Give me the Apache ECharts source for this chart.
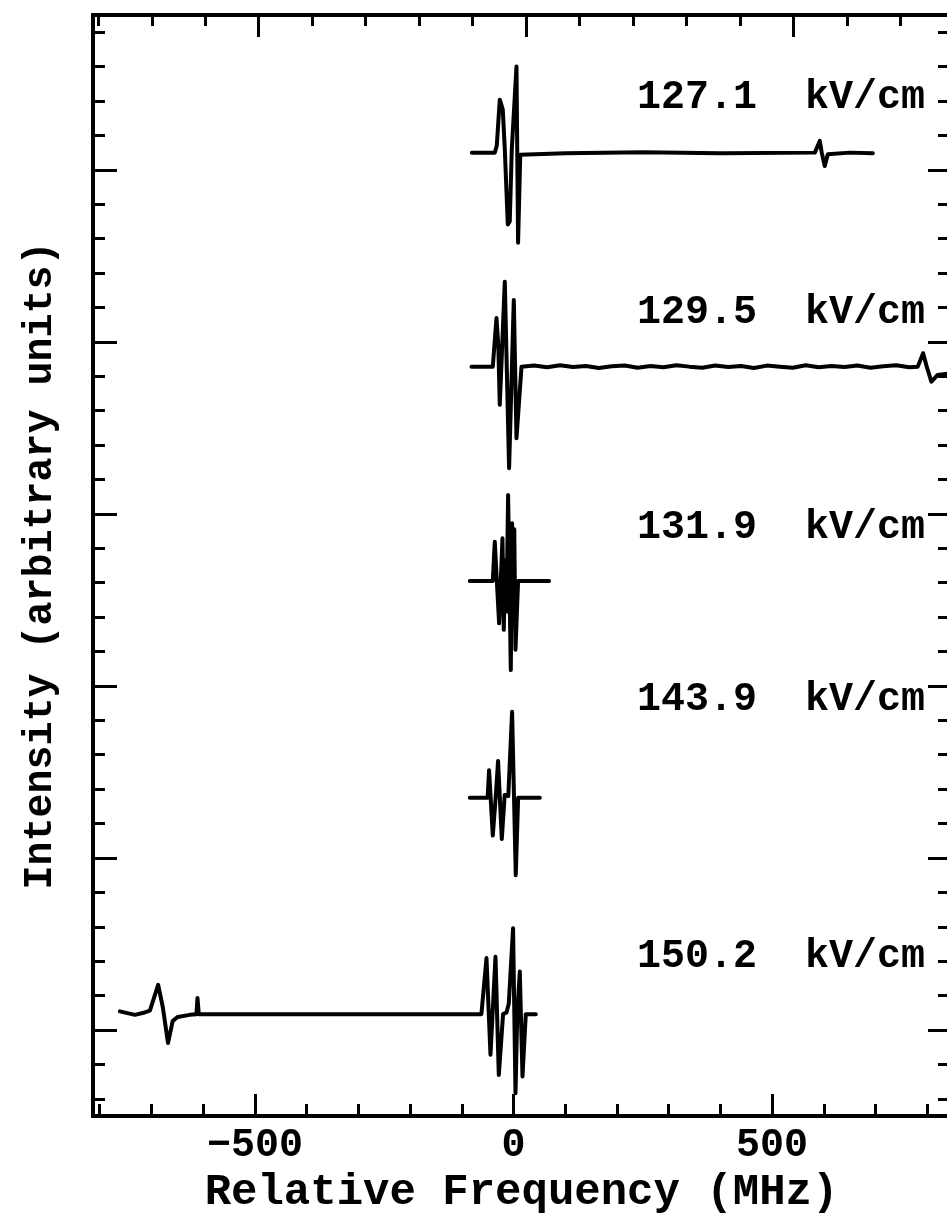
<!DOCTYPE html>
<html>
<head>
<meta charset="utf-8">
<script src="https://cdn.jsdelivr.net/npm/echarts/dist/echarts.min.js"></script>
<style>
html,body{margin:0;padding:0;background:#fff;}
#chart{width:947px;height:1223px;}
</style>
</head>
<body>
<div id="chart"></div>
<script>
// ---- Data (frequency in MHz, intensity in arbitrary units relative to each trace's baseline) ----
const fieldLabels = ['127.1  kV/cm', '129.5  kV/cm', '131.9  kV/cm', '143.9  kV/cm', '150.2  kV/cm'];
const baselines = [28.0, 21.78, 15.55, 9.25, 2.96];

const t1x = [-80.6, -36.2, -32.3, -26.5, -20.7, -16.8, -11.0, -7.2, -3.3, 5.8, 8.9, 13.1, 100, 250, 400, 582.6, 592.2, 596, 601.9, 607.7, 650, 694.8];
const t1y = [0, 0, 0.2, 1.54, 1.25, 0.1, -2.09, -2.0, 0.09, 2.5, -2.62, -0.06, -0.02, 0.01, -0.02, 0, 0.34, 0, -0.39, -0.05, 0, -0.02];

const t2x = [-81.2, -40, -32.9, -29.4, -26.5, -16.8, -8.5, 0.6, 5.8, 15.5,
  40, 65, 90, 115, 140, 165, 190, 215, 240, 265, 290, 315, 340, 365, 390, 415, 440, 465, 490, 515,
  540, 565, 590, 615, 640, 665, 690, 715, 740, 765, 781.7, 792, 799, 808, 820, 843.6];
const t2y = [0, 0, 1.41, 0.63, -1.11, 2.47, -2.95, 1.94, -2.08, 0,
  0.03, -0.02, 0.04, -0.01, 0.02, -0.04, 0.01, 0.03, -0.03, 0.02, -0.02, 0.04, 0, -0.03, 0.03, -0.01, 0.02, -0.04, 0.03, 0,
  -0.03, 0.04, -0.02, 0.02, -0.01, 0.03, -0.03, 0.01, 0.04, -0.02, 0, 0.39, 0, -0.44, -0.24, -0.2];

const t3x = [-84.5, -40, -36.2, -27.8, -21.3, -18.8, -15.9, -13.5, -10.4, -5.2, -2.7, -0.4, 1.5, 3.9, 8.9, 68.8];
const t3y = [0, 0, 1.14, -1.23, 1.24, -1.42, 0.6, -0.89, 2.5, -2.59, 1.68, -1.2, 1.5, -2.0, 0, 0];

const t4x = [-84.5, -50, -47.2, -40, -34, -29.8, -22.6, -17, -10, -2.7, 4.4, 9, 50.9];
const t4y = [0, 0, 0.8, -1.1, 0.1, 1.07, -1.2, 0.08, 0.05, 2.5, -2.25, 0, 0];

const t5x = [-761, -732, -713, -703, -687, -678, -668, -659, -649, -626, -613, -611, -608.5, -400, -200,
  -62, -52.2, -44.5, -34.8, -28.4, -20.1, -13.5, -9.1, -0.8, 3.9, 7.3, 12.2, 17.4, 23.8, 43.1];
const t5y = [0.08, -0.02, 0.05, 0.1, 0.85, 0.2, -0.84, -0.2, -0.08, -0.02, 0, 0.47, 0, 0, 0,
  0, 1.63, -1.18, 1.67, -1.77, 0, 0.05, 0.3, 2.5, -2.3, 0, 1.24, -1.81, 0, 0];

const tracesX = [t1x, t2x, t3x, t4x, t5x];
const tracesY = [t1y, t2y, t3y, t4y, t5y];

const xMinorTicks = [-800, -700, -600, -500, -400, -300, -200, -100, 0, 100, 200, 300, 400, 500, 600, 700, 800];
const xMajorTicks = [-500, 0, 500];
const yMinorTicks = [];
for (let v = 0.5; v < 32; v += 1) yMinorTicks.push(v);
const yMajorTicks = [2.5, 7.5, 12.5, 17.5, 22.5, 27.5];

// ---- Chart ----
const FONT = 'Liberation Mono';
const chart = echarts.init(document.getElementById('chart'), null, {renderer: 'canvas'});

const axisLine = {show: true, onZero: false, lineStyle: {color: '#000', width: 4}};
function xAx(pos, min, max, ticks, len, labels, extra) {
  return Object.assign({
    type: 'value', position: pos, min: min, max: max, gridIndex: 0,
    axisLine: axisLine,
    axisTick: {show: true, inside: true, length: len, customValues: ticks, lineStyle: {color: '#000', width: 3}},
    axisLabel: labels ? {show: true, customValues: labels, fontFamily: FONT, fontWeight: 'bold', fontSize: 40, color: '#000', margin: 10,
      formatter: v => (v < 0 ? '\u2212' + Math.abs(v) : String(v))} : {show: false},
    splitLine: {show: false}
  }, extra || {});
}
function yAx(pos, ticks, len, extra) {
  return Object.assign({
    type: 'value', position: pos, min: 0, max: 32, gridIndex: 0,
    axisLine: axisLine,
    axisTick: {show: true, inside: true, length: len, customValues: ticks, lineStyle: {color: '#000', width: 3}},
    axisLabel: {show: false},
    splitLine: {show: false}
  }, extra || {});
}

const series = tracesX.map((xs, k) => ({
  type: 'line',
  xAxisIndex: 0, yAxisIndex: 0,
  data: xs.map((x, i) => [x, baselines[k] + tracesY[k][i]]),
  showSymbol: false, symbol: 'none',
  lineStyle: {color: '#000', width: 4, join: 'round', cap: 'round'},
  clip: true,
  silent: true
}));

chart.setOption({
  animation: false,
  backgroundColor: '#fff',
  grid: {left: 93, top: 15, width: 857, height: 1101, containLabel: false, outerBoundsMode: 'none'},
  xAxis: [
    xAx('bottom', -813, 844, xMinorTicks, 12, null, {
      name: 'Relative Frequency (MHz)', nameLocation: 'middle', nameGap: 55,
      nameTextStyle: {fontFamily: FONT, fontWeight: 'bold', fontSize: 44, color: '#000'}
    }),
    xAx('bottom', -813, 844, xMajorTicks, 22, xMajorTicks),
    xAx('top', -810, 793, xMinorTicks, 11, null),
    xAx('top', -810, 793, xMajorTicks, 22, null)
  ],
  yAxis: [
    yAx('left', yMinorTicks, 12, {
      name: 'Intensity (arbitrary units)', nameLocation: 'middle', nameGap: 32, nameRotate: 90,
      nameTextStyle: {fontFamily: FONT, fontWeight: 'bold', fontSize: 40, color: '#000'}
    }),
    yAx('left', yMajorTicks, 24),
    yAx('right', yMinorTicks, 12),
    yAx('right', yMajorTicks, 22)
  ],
  series: series,
  graphic: fieldLabels.map((t, k) => ({
    type: 'text',
    right: 947 - 925,
    top: [98, 313, 528, 700, 957][k] - 20,
    style: {text: t, font: 'bold 40px "' + FONT + '"', fill: '#000'}
  }))
});
</script>
</body>
</html>
